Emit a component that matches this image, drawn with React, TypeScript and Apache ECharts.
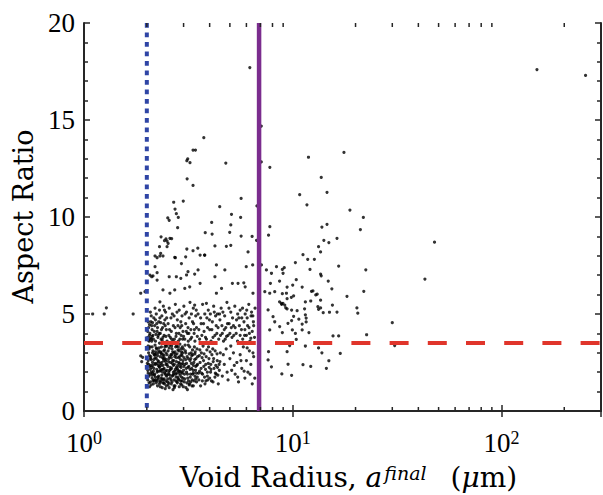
import React, { useEffect, useRef } from "react";
import * as echarts from "echarts";

// ---------- data ----------
const xMin = 1;
const xMax = 300;
const yMin = 0;
const yMax = 20;
const yInterval = 5;
const blueX = 2;
const purpleX = 6.9;
const redY = 3.5;
const xMinorTicks = [2, 3, 4, 5, 6, 7, 8, 9, 20, 30, 40, 50, 60, 70, 80, 90, 200];

const pointsLeft: number[][] = [
  [1.1, 5.0], [1.25, 5.0], [1.28, 5.32], [1.72, 5.0], [1.87, 2.84], [1.91, 2.77], [1.89, 2.54], [1.87, 6.07], [1.96, 6.15],
];

const clusterLow: number[][] = [
  [2.02, 2.1], [2.03, 2.6], [2.04, 3.0], [2.05, 1.8], [2.06, 2.3], [2.07, 3.3], [2.08, 1.5], [2.09, 2.8], [2.1, 2.0], [2.11, 3.6],
  [2.12, 1.7], [2.13, 2.5], [2.14, 3.1], [2.15, 1.4], [2.16, 2.2], [2.17, 2.9], [2.18, 1.9], [2.19, 3.4], [2.2, 2.4], [2.21, 1.6],
  [2.22, 2.7], [2.23, 3.2], [2.24, 2.0], [2.25, 1.3], [2.26, 2.6], [2.27, 3.0], [2.28, 1.8], [2.29, 2.3], [2.3, 3.5], [2.31, 1.5],
  [2.32, 2.8], [2.33, 2.1], [2.34, 1.7], [2.35, 3.3], [2.36, 2.5], [2.37, 1.2], [2.38, 2.0], [2.39, 2.9], [2.4, 1.6], [2.41, 3.1],
  [2.42, 2.2], [2.43, 1.4], [2.44, 2.7], [2.45, 1.9], [2.46, 3.4], [2.47, 2.4], [2.48, 1.3], [2.49, 2.1], [2.5, 2.9],
  [2.02, 1.6], [2.04, 2.4], [2.05, 3.2], [2.07, 1.9], [2.08, 2.7], [2.1, 1.35], [2.11, 2.25], [2.13, 3.0], [2.14, 1.55], [2.16, 2.65],
  [2.17, 1.85], [2.19, 2.45], [2.2, 3.05], [2.22, 1.45], [2.23, 2.15], [2.25, 2.85], [2.26, 1.75], [2.28, 2.55], [2.29, 3.25], [2.31, 2.05],
  [2.32, 1.25], [2.34, 2.35], [2.35, 2.95], [2.37, 1.65], [2.38, 2.75], [2.4, 2.15], [2.41, 1.45], [2.43, 3.15], [2.44, 1.95], [2.46, 2.55],
  [2.47, 1.55], [2.49, 3.35], [2.5, 1.85],
  [2.03, 1.95], [2.06, 2.85], [2.09, 2.35], [2.12, 3.3], [2.15, 2.05], [2.18, 1.55], [2.21, 2.95], [2.24, 2.45], [2.27, 1.65], [2.3, 2.25],
  [2.33, 3.05], [2.36, 1.85], [2.39, 2.35], [2.42, 2.85], [2.45, 1.15], [2.48, 2.65],
  [2.51, 1.5], [2.52, 2.3], [2.53, 3.1], [2.54, 1.9], [2.55, 2.7], [2.56, 1.2], [2.57, 2.1], [2.58, 3.4], [2.59, 1.7], [2.6, 2.5],
  [2.61, 2.9], [2.62, 1.4], [2.63, 2.2], [2.64, 3.2], [2.65, 1.8], [2.66, 2.6], [2.67, 1.1], [2.68, 2.0], [2.69, 3.0], [2.7, 1.6],
  [2.71, 2.4], [2.72, 2.8], [2.73, 1.3], [2.74, 2.15], [2.75, 3.3], [2.76, 1.75], [2.77, 2.55], [2.78, 1.95], [2.79, 2.95], [2.8, 1.45],
  [2.81, 2.35], [2.82, 3.15], [2.83, 1.65], [2.84, 2.75], [2.85, 2.05], [2.86, 1.25], [2.87, 2.45], [2.88, 3.45], [2.89, 1.85], [2.9, 2.65],
  [2.91, 1.55], [2.92, 2.25], [2.93, 3.05], [2.94, 1.35], [2.95, 2.85], [2.96, 1.95], [2.97, 2.45], [2.98, 1.7], [2.99, 3.2], [3.0, 2.1],
  [2.52, 1.65], [2.54, 2.55], [2.56, 3.25], [2.58, 1.85], [2.6, 2.15], [2.62, 2.75], [2.64, 1.5], [2.66, 3.05], [2.68, 2.35], [2.7, 1.3],
  [2.72, 2.05], [2.74, 2.9], [2.76, 1.55], [2.78, 3.35], [2.8, 2.2], [2.82, 1.75], [2.84, 2.5], [2.86, 1.95], [2.88, 2.3], [2.9, 1.4],
  [2.92, 2.9], [2.94, 2.0], [2.96, 3.3], [2.98, 2.6],
  [3.02, 1.5], [3.04, 2.4], [3.06, 3.1], [3.08, 1.2], [3.1, 2.0], [3.12, 2.8], [3.14, 1.7], [3.16, 3.4], [3.18, 2.3], [3.2, 1.4],
  [3.22, 2.6], [3.24, 1.9], [3.26, 3.0], [3.28, 2.2], [3.3, 1.6], [3.32, 2.9], [3.34, 1.3], [3.36, 2.5], [3.38, 3.3], [3.4, 1.8],
  [3.42, 2.1], [3.44, 2.7], [3.46, 1.5], [3.48, 3.2], [3.5, 2.4],
  [3.03, 1.9], [3.07, 2.65], [3.11, 1.45], [3.15, 2.25], [3.19, 2.95], [3.23, 1.75], [3.27, 2.45], [3.31, 3.15], [3.35, 1.95], [3.39, 2.65],
  [3.43, 1.65], [3.47, 2.35], [3.05, 3.4], [3.13, 1.1], [3.21, 3.3], [3.29, 1.3],
  [3.55, 1.6], [3.6, 2.5], [3.65, 3.0], [3.7, 1.9], [3.75, 2.3], [3.8, 1.4], [3.85, 2.8], [3.9, 2.0], [3.95, 3.3], [4.0, 1.7],
  [4.05, 2.4], [4.1, 2.9], [4.15, 1.5], [4.2, 2.2], [4.25, 3.1], [4.3, 1.9], [4.35, 2.6], [4.4, 1.4], [4.45, 2.1], [4.5, 3.0],
  [3.58, 2.05], [3.68, 2.75], [3.78, 1.75], [3.88, 3.15], [3.98, 2.25], [4.08, 1.55], [4.18, 2.7], [4.28, 2.35], [4.38, 1.85], [4.48, 2.55],
  [3.62, 1.3], [3.72, 3.35], [3.82, 2.15], [3.92, 1.6], [4.02, 3.05],
  [4.6, 1.8], [4.7, 2.4], [4.8, 3.2], [4.9, 1.6], [5.0, 2.7], [5.1, 2.1], [5.2, 3.0], [5.3, 1.9], [5.4, 2.5], [5.5, 1.5],
  [5.6, 2.9], [5.7, 2.2], [5.8, 3.3], [5.9, 1.7], [6.0, 2.6], [6.1, 2.0], [6.2, 3.1], [6.3, 2.4], [6.4, 1.4], [6.5, 2.8],
  [4.65, 2.9], [4.85, 2.0], [5.05, 3.35], [5.25, 2.35], [5.45, 1.75], [5.65, 2.6], [5.85, 2.05], [6.05, 3.25], [6.25, 1.9], [6.45, 3.0],
  [2.06, 1.25], [2.13, 1.95], [2.19, 2.75], [2.27, 2.35], [2.33, 1.55], [2.41, 2.6], [2.47, 3.0], [2.55, 1.45], [2.63, 2.9], [2.69, 1.9],
  [2.77, 2.25], [2.85, 3.1], [2.93, 1.75], [3.01, 2.75], [3.09, 2.2], [3.17, 1.55], [3.25, 2.7], [3.33, 2.1], [3.41, 3.05], [3.49, 1.75],
  [3.57, 2.85], [3.66, 1.95], [3.74, 2.6], [3.84, 1.55], [3.94, 2.45], [4.04, 2.0], [4.14, 3.2], [4.24, 1.75], [4.34, 2.95], [4.44, 2.4],
  [6.58, 1.69],
  [2.01, 2.45], [2.03, 3.35], [2.05, 1.45], [2.08, 2.15], [2.1, 2.65], [2.12, 1.85], [2.14, 2.35], [2.16, 1.6], [2.18, 2.9], [2.2, 1.75],
  [2.22, 3.25], [2.24, 1.55], [2.26, 2.05], [2.28, 3.1], [2.3, 1.4], [2.32, 2.45], [2.34, 3.0], [2.36, 2.15], [2.38, 1.45], [2.4, 2.7],
  [2.42, 1.65], [2.44, 3.3], [2.46, 2.05], [2.48, 1.8], [2.5, 2.4], [2.53, 1.35], [2.55, 2.0], [2.57, 2.8], [2.59, 2.25], [2.61, 1.6],
  [2.63, 3.35], [2.65, 2.45], [2.67, 1.85], [2.69, 2.6], [2.71, 1.2], [2.73, 3.05], [2.75, 1.9], [2.77, 2.75], [2.79, 1.5], [2.81, 2.1],
  [2.83, 3.3], [2.85, 1.6], [2.87, 2.8], [2.89, 2.05], [2.91, 3.2], [2.93, 2.4], [2.95, 1.55], [2.97, 3.0], [2.99, 1.25], [3.01, 2.3],
  [3.04, 1.65], [3.07, 3.0], [3.1, 2.45], [3.13, 1.9], [3.16, 2.7], [3.19, 1.35], [3.22, 2.15], [3.25, 1.5], [3.28, 2.85], [3.31, 1.9],
  [3.34, 2.35], [3.37, 1.55], [3.4, 2.95], [3.43, 2.3], [3.46, 1.95], [3.5, 2.8], [3.54, 1.95], [3.59, 3.15], [3.64, 2.2], [3.69, 1.55],
  [3.76, 2.95], [3.83, 2.4], [3.9, 1.8], [3.97, 2.7], [4.06, 2.15], [4.16, 2.55], [4.26, 1.95], [4.36, 2.25],
];

const clusterHigh: number[][] = [
  [2.02, 3.8], [2.04, 4.3], [2.05, 3.6], [2.07, 4.0], [2.09, 4.6], [2.1, 3.7], [2.12, 4.2], [2.14, 3.9], [2.16, 4.8], [2.18, 4.4],
  [2.2, 3.6], [2.22, 5.0], [2.24, 4.1], [2.26, 3.8], [2.28, 4.6], [2.3, 5.2], [2.32, 4.0], [2.34, 3.7], [2.36, 4.9], [2.38, 4.3],
  [2.4, 5.4], [2.42, 3.9], [2.44, 4.7], [2.46, 5.1], [2.48, 4.2], [2.5, 3.6],
  [2.53, 4.5], [2.56, 5.3], [2.59, 3.8], [2.62, 4.1], [2.65, 5.0], [2.68, 4.4], [2.71, 3.7], [2.74, 5.5], [2.77, 4.0], [2.8, 4.7],
  [2.83, 3.6], [2.86, 5.2], [2.89, 4.3], [2.92, 3.9], [2.95, 4.9], [2.98, 4.1], [3.01, 5.4], [3.04, 3.7], [3.07, 4.5], [3.1, 5.1],
  [3.13, 4.0], [3.16, 3.6], [3.19, 4.8], [3.22, 5.6], [3.25, 4.2], [3.28, 3.8], [3.31, 4.6], [3.34, 5.3], [3.37, 4.0], [3.4, 3.6],
  [3.43, 4.9], [3.46, 4.3],
  [3.52, 5.0], [3.58, 3.7], [3.64, 4.5], [3.7, 5.5], [3.76, 4.1], [3.82, 3.8], [3.88, 4.8], [3.94, 5.2], [4.0, 4.2], [4.06, 3.6],
  [4.12, 4.6], [4.18, 5.4], [4.24, 3.9], [4.3, 4.4], [4.36, 5.0], [4.42, 3.7], [4.48, 4.7], [4.54, 5.3], [4.6, 4.0], [4.66, 3.6],
  [4.72, 4.9], [4.78, 4.3], [4.84, 5.6], [4.9, 3.9], [4.96, 4.5],
  [5.05, 5.1], [5.12, 3.8], [5.2, 4.4], [5.28, 5.4], [5.36, 4.0], [5.44, 3.6], [5.52, 4.8], [5.6, 5.2], [5.68, 4.2], [5.76, 3.7],
  [5.84, 4.6], [5.92, 5.0], [6.0, 3.9], [6.08, 4.4], [6.16, 5.5], [6.24, 3.6], [6.32, 4.9], [6.4, 4.1], [6.48, 4.6], [6.56, 3.8], [6.6, 5.3],
  [2.03, 4.6], [2.06, 3.9], [2.08, 5.1], [2.11, 4.4], [2.15, 3.7], [2.19, 5.3], [2.23, 4.5], [2.27, 3.9], [2.31, 4.8], [2.35, 4.2],
  [2.39, 3.8], [2.45, 4.4], [2.55, 3.9], [2.61, 4.8], [2.67, 3.6], [2.73, 4.3], [2.79, 5.1], [2.85, 4.0], [2.91, 4.6], [2.97, 3.7],
  [3.05, 5.0], [3.15, 4.3], [3.24, 3.7], [3.35, 4.5], [3.45, 5.2], [3.55, 4.2], [3.67, 3.9], [3.79, 5.0], [3.91, 4.3], [4.03, 5.0],
  [4.15, 3.8], [4.27, 4.9], [4.39, 4.3], [4.51, 3.9], [4.63, 5.1], [4.75, 3.7], [4.87, 4.5], [5.0, 4.0], [5.15, 4.8], [5.3, 4.3],
  [5.45, 5.0], [5.6, 3.9], [5.75, 5.3], [5.9, 4.2], [6.05, 4.8], [6.2, 4.0], [6.35, 5.1], [6.5, 4.4],
  [2.02, 4.1], [2.04, 3.65], [2.06, 4.45], [2.08, 3.75], [2.1, 4.9], [2.12, 3.85], [2.13, 4.55], [2.17, 4.1], [2.2, 4.7], [2.21, 3.95],
  [2.25, 4.3], [2.29, 4.0], [2.33, 4.55], [2.37, 3.65], [2.41, 4.5], [2.43, 5.2], [2.47, 3.85], [2.49, 4.8], [2.57, 4.2], [2.63, 3.7],
  [2.7, 4.9], [2.76, 3.85], [2.82, 4.4], [2.88, 3.7], [2.94, 4.4], [3.0, 3.85], [3.09, 4.1], [3.18, 4.0], [3.27, 5.0], [3.38, 4.2],
  [3.49, 3.85], [3.62, 4.8], [3.74, 4.5], [3.86, 3.7], [3.99, 4.7], [4.1, 4.2], [4.21, 5.1], [4.33, 4.0], [4.46, 5.0], [4.58, 4.4],
  [4.7, 4.2], [4.82, 3.85], [4.95, 5.3], [5.08, 4.3], [5.22, 3.9], [5.38, 4.7], [5.55, 4.4], [5.7, 4.8], [5.88, 3.9], [6.02, 5.2],
  [6.18, 4.3], [6.3, 3.75], [6.44, 4.9],
];

const pointsMid: number[][] = [
  [2.19, 7.44], [2.07, 7.0], [2.14, 6.96], [2.11, 6.92], [2.24, 6.75], [2.31, 5.63], [2.56, 6.92], [2.72, 7.92], [3.07, 7.95], [3.33, 8.26],
  [3.6, 8.04], [3.79, 8.04], [3.15, 7.18], [3.1, 7.01], [3.39, 7.06], [3.52, 7.27], [2.77, 6.92], [2.91, 6.84], [3.21, 6.4], [3.04, 6.32],
  [3.6, 6.58], [4.24, 6.92], [4.73, 7.27], [5.14, 6.58], [5.47, 6.58], [5.83, 6.61], [5.92, 6.4], [4.31, 6.07], [4.56, 6.32], [5.99, 7.44],
  [6.43, 7.53], [3.39, 5.46], [3.86, 5.55], [2.72, 6.24], [2.58, 6.07], [2.39, 6.24], [2.24, 7.13], [2.93, 7.6], [4.31, 7.53], [6.45, 6.07],
  [3.81, 9.19], [4.11, 9.12], [4.99, 9.21], [5.66, 9.02], [6.39, 9.0], [2.34, 8.98], [2.47, 8.87], [2.5, 8.76], [2.58, 8.9], [2.63, 8.88],
  [2.43, 8.78], [2.53, 8.64], [2.5, 8.47], [2.3, 8.47], [4.24, 8.51], [4.81, 8.49], [5.05, 8.54], [3.51, 8.39], [3.11, 8.35], [6.11, 8.2],
  [3.78, 8.03], [2.74, 7.9], [2.33, 8.13], [2.31, 7.99], [2.39, 7.99], [2.19, 7.99], [2.24, 7.9], [6.71, 8.8],
];

const pointsHigh: number[][] = [
  [3.75, 14.09], [3.33, 13.45], [3.42, 13.45], [3.14, 13.0], [3.11, 12.9], [3.22, 12.8], [4.78, 12.78], [3.12, 11.97], [3.33, 11.63],
  [2.69, 10.76], [2.99, 10.82], [2.73, 10.41], [2.77, 10.17], [2.83, 9.98], [2.52, 9.95], [2.56, 9.83], [2.81, 9.45], [4.47, 10.53],
  [5.66, 10.96], [5.09, 10.14], [5.63, 9.98], [4.09, 9.72], [5.05, 9.59], [6.23, 17.7], [6.74, 10.57],
];

const pointsRight: number[][] = [
  [7.07, 14.69], [7.07, 12.84], [7.77, 12.56], [11.9, 13.08], [17.6, 13.33], [13.7, 12.04], [14.6, 11.27], [10.8, 11.15], [11.7, 10.63],
  [18.8, 10.36], [21.8, 9.98], [21.1, 9.35], [13.8, 9.48], [14.6, 9.62], [7.77, 9.5], [7.66, 9.06], [16.3, 8.9], [14.1, 8.8], [14.9, 8.68],
  [13.3, 8.47], [13.6, 8.2], [11.2, 8.06], [12.7, 7.82], [11.8, 7.82], [10.3, 7.65], [8.92, 7.3], [9.11, 7.39], [12.1, 7.3], [16.6, 7.47],
  [22.4, 7.28], [13.6, 7.06], [13.7, 6.97], [10.4, 6.77], [8.65, 6.7], [14.8, 6.7], [9.4, 6.39], [11.1, 6.39], [15.4, 6.3], [8.92, 6.05],
  [12.3, 6.17], [12.5, 6.19], [12.9, 5.98], [13.1, 6.02], [21.9, 6.17], [18.2, 5.91], [9.4, 5.79], [9.85, 5.86], [10.1, 5.94], [13.6, 5.71],
  [12.2, 5.67], [11.5, 5.62], [8.65, 5.63], [8.85, 5.5], [8.98, 5.55], [9.26, 5.32], [9.4, 5.27], [9.88, 5.2], [10.5, 5.17], [11.4, 5.27],
  [13.2, 5.38], [13.6, 5.31], [13.3, 5.24], [15.5, 5.46], [20.3, 5.31], [20.5, 5.04], [14.0, 5.07], [15.0, 5.09], [16.3, 5.1], [10.1, 4.88],
  [11.6, 4.79], [11.5, 4.96], [10.7, 4.73], [9.88, 4.66], [11.1, 4.48], [11.6, 4.59], [30.0, 4.55], [9.96, 4.18], [11.1, 4.18], [8.92, 4.04],
  [10.3, 4.0], [11.96, 4.04], [10.4, 3.69], [15.6, 3.87], [16.6, 3.87], [22.6, 3.93], [43.0, 6.8], [47.8, 8.7], [30.8, 3.37], [9.67, 3.37],
  [11.5, 3.35], [9.4, 3.06], [13.3, 3.25], [13.8, 3.0], [16.9, 2.97], [14.9, 2.59], [9.5, 2.41], [11.2, 2.39], [12.2, 2.3], [14.5, 2.2],
  [8.87, 1.91], [9.88, 1.84], [148, 17.6], [253, 17.3],
  [7.48, 7.27], [7.91, 7.1], [7.82, 6.58], [8.36, 7.44], [8.99, 7.1], [9.33, 6.07], [10.0, 6.49], [8.2, 6.15], [7.76, 6.07], [8.83, 5.55],
  [9.16, 5.46], [7.62, 5.21], [8.05, 4.86], [8.2, 4.6], [8.66, 4.35], [9.49, 4.52], [7.76, 4.18], [7.62, 2.63], [7.91, 2.28], [7.08, 7.53],
  [7.35, 6.15], [7.66, 3.06],
];

const allPoints = [...pointsLeft, ...clusterLow, ...clusterHigh, ...pointsMid, ...pointsHigh, ...pointsRight];

// ---------- styles ----------
const axisColor = "#262626";
const tickFont = "Liberation Serif";
const titleFont = "DejaVu Serif";

function xLabel(v: number): string {
  const k = Math.round(Math.log10(v));
  if (Math.abs(v - Math.pow(10, k)) > 1e-6 * v) return "";
  return `{b|10}{s|${k}}`;
}

export default function App() {
  const ref = useRef<HTMLDivElement>(null);
  useEffect(() => {
    if (!ref.current) return;
    const chart = echarts.init(ref.current, undefined, { renderer: "svg" });
    const baseX = {
      type: "log" as const,
      logBase: 10,
      min: xMin,
      max: xMax,
      axisLine: { show: true, lineStyle: { color: axisColor, width: 2 } },
      axisTick: { show: true, inside: true, length: 6, lineStyle: { color: axisColor, width: 1.5 } },
      splitLine: { show: false },
    };
    const baseY = {
      type: "value" as const,
      min: yMin,
      max: yMax,
      interval: yInterval,
      axisLine: { show: true, lineStyle: { color: axisColor, width: 2 } },
      axisTick: { show: true, inside: true, length: 6, lineStyle: { color: axisColor, width: 1.5 } },
      minorTick: { show: true, splitNumber: 5, length: 4, lineStyle: { color: axisColor, width: 1.5 } },
      splitLine: { show: false },
      minorSplitLine: { show: false },
    };
    chart.setOption({
      animation: false,
      backgroundColor: "#ffffff",
      grid: { left: 84, right: 2, top: 23, bottom: 84, containLabel: false },
      xAxis: [
        {
          ...baseX,
          position: "bottom",
          axisLabel: {
            show: true,
            margin: 18,
            showMaxLabel: false,
            formatter: xLabel,
            color: "#000",
            rich: {
              b: { fontFamily: tickFont, fontSize: 27, lineHeight: 27, color: "#000" },
              s: { fontFamily: tickFont, fontSize: 18, lineHeight: 8, verticalAlign: "top", color: "#000" },
            },
          },
        },
        { ...baseX, position: "top", axisLabel: { show: false } },
      ],
      yAxis: [
        {
          ...baseY,
          position: "left",
          axisLabel: { show: true, margin: 9, color: "#000", fontFamily: tickFont, fontSize: 27 },
        },
        { ...baseY, position: "right", axisLabel: { show: false } },
      ],
      graphic: [
        {
          type: "text",
          x: 23,
          y: 216.5,
          rotation: Math.PI / 2,
          style: {
            text: "Aspect Ratio",
            fontFamily: titleFont,
            fontSize: 27,
            fill: "#000",
            align: "center",
            verticalAlign: "middle",
          },
        },
        {
          type: "text",
          x: 348.5,
          y: 477,
          style: {
            text: "{n|Void Radius, }{i|a}{s|final}{n|(}{i|μ}{n|m)}",
            align: "center",
            verticalAlign: "middle",
            fill: "#000",
            rich: {
              n: { fontFamily: titleFont, fontSize: 28, lineHeight: 27, fill: "#000" },
              i: { fontFamily: titleFont, fontSize: 28, fontStyle: "italic", lineHeight: 27, fill: "#000" },
              s: { fontFamily: titleFont, fontSize: 19, fontStyle: "italic", lineHeight: 2, verticalAlign: "top", padding: [0, 24, 0, 2], fill: "#000" },
            },
          },
        },
      ],
      series: [
        {
          type: "scatter",
          data: allPoints,
          symbol: "circle",
          symbolSize: 3.2,
          itemStyle: { color: "#000" },
          silent: true,
          z: 2,
        },
        {
          type: "custom",
          data: xMinorTicks.map((v) => [v, 0]),
          encode: { x: 0, y: 1 },
          silent: true,
          clip: false,
          z: 5,
          renderItem: (_params: any, api: any) => {
            const xv = api.value(0);
            const pb = api.coord([xv, yMin]);
            const pt = api.coord([xv, yMax]);
            const st = { stroke: axisColor, lineWidth: 1.5 };
            return {
              type: "group",
              children: [
                { type: "line", shape: { x1: pb[0], y1: pb[1], x2: pb[0], y2: pb[1] - 4 }, style: st },
                { type: "line", shape: { x1: pt[0], y1: pt[1], x2: pt[0], y2: pt[1] + 4 }, style: st },
              ],
            };
          },
        },
        {
          type: "line",
          data: [[blueX, yMax], [blueX, yMin]],
          symbol: "none",
          silent: true,
          z: 4,
          lineStyle: { color: "#2f45a5", width: 4, type: [4.7, 4.8], cap: "butt" },
        },
        {
          type: "line",
          data: [[purpleX, yMin], [purpleX, yMax]],
          symbol: "none",
          silent: true,
          z: 4,
          lineStyle: { color: "#7b2d8e", width: 4.5, type: "solid" },
        },
        {
          type: "line",
          data: [[xMin, redY], [xMax, redY]],
          symbol: "none",
          silent: true,
          z: 4,
          lineStyle: { color: "#e0352b", width: 4, type: [19, 19.2], cap: "butt" },
        },
      ],
    });
    return () => chart.dispose();
  }, []);
  return <div ref={ref} style={{ width: 603, height: 495, position: "absolute", left: 0, top: 0 }} />;
}
